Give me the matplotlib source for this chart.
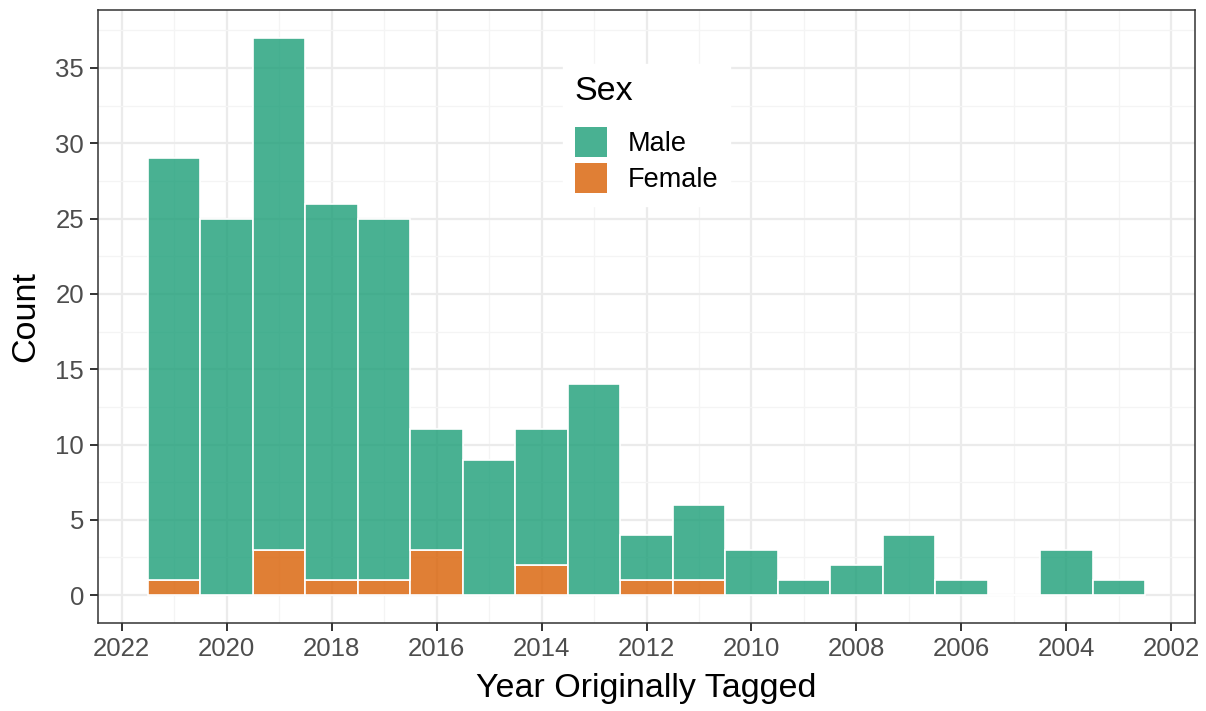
import matplotlib
matplotlib.use("Agg")
import matplotlib.pyplot as plt
from matplotlib.colors import to_rgba
from matplotlib.ticker import MultipleLocator
import numpy as np

years = [2021, 2020, 2019, 2018, 2017, 2016, 2015, 2014, 2013, 2012,
         2011, 2010, 2009, 2008, 2007, 2006, 2005, 2004, 2003]
male = [28, 25, 34, 25, 24, 8, 9, 9, 14, 3, 5, 3, 1, 2, 4, 1, 0, 3, 1]
female = [1, 0, 3, 1, 1, 3, 0, 2, 0, 1, 1, 0, 0, 0, 0, 0, 0, 0, 0]
series_names = ["Male", "Female"]
colors = ["#1b9e77", "#d95f02"]

plt.rcParams["font.family"] = ["Liberation Sans", "DejaVu Sans"]

fig = plt.figure(figsize=(12.06, 7.11), dpi=100)
ax = fig.add_axes([98/1206, 88/711, (1195-98)/1206, (623-10)/711])

fc_m = to_rgba(colors[0], 0.8)
fc_f = to_rgba(colors[1], 0.8)
ax.bar(years, female, width=1.0, color=fc_f, edgecolor="white", linewidth=1.2, label=series_names[1], zorder=2)
ax.bar(years, male, width=1.0, bottom=female, color=fc_m, edgecolor="white", linewidth=1.2, label=series_names[0], zorder=2)

ax.set_xlim(2022.45, 2001.55)
ax.set_ylim(-1.85, 38.85)
ax.xaxis.set_major_locator(MultipleLocator(2))
ax.xaxis.set_minor_locator(MultipleLocator(1))
ax.yaxis.set_major_locator(MultipleLocator(5))
ax.yaxis.set_minor_locator(MultipleLocator(2.5))
ax.set_axisbelow(True)
ax.grid(which="major", color="#ebebeb", linewidth=1.6, zorder=0)
ax.grid(which="minor", color="#f4f4f4", linewidth=0.9, zorder=0)
ax.tick_params(which="minor", length=0)
ax.tick_params(which="major", length=6, width=1.4, color="#333333",
               labelsize=18.5, labelcolor="#4d4d4d", pad=4)
for s in ax.spines.values():
    s.set_color("#333333")
    s.set_linewidth(1.1)

ax.set_xlabel("Year Originally Tagged", fontsize=24.5, labelpad=9)
ax.set_ylabel("Count", fontsize=24.5, labelpad=10)

handles, labels = ax.get_legend_handles_labels()
leg = ax.legend(handles[::-1], labels[::-1], title="Sex", loc="upper center",
                bbox_to_anchor=(0.5, 0.912), borderaxespad=0,
                fontsize=19.5, title_fontsize=24.5,
                frameon=True, fancybox=False, edgecolor="white", framealpha=1,
                handlelength=1.2, handleheight=1.35, handletextpad=0.75,
                labelspacing=0.22, borderpad=0.45)
leg._legend_box.align = "left"
leg._legend_box.sep = 14
for h in leg.legend_handles:
    h.set_edgecolor("none")

fig.savefig("out.png", dpi=100)
